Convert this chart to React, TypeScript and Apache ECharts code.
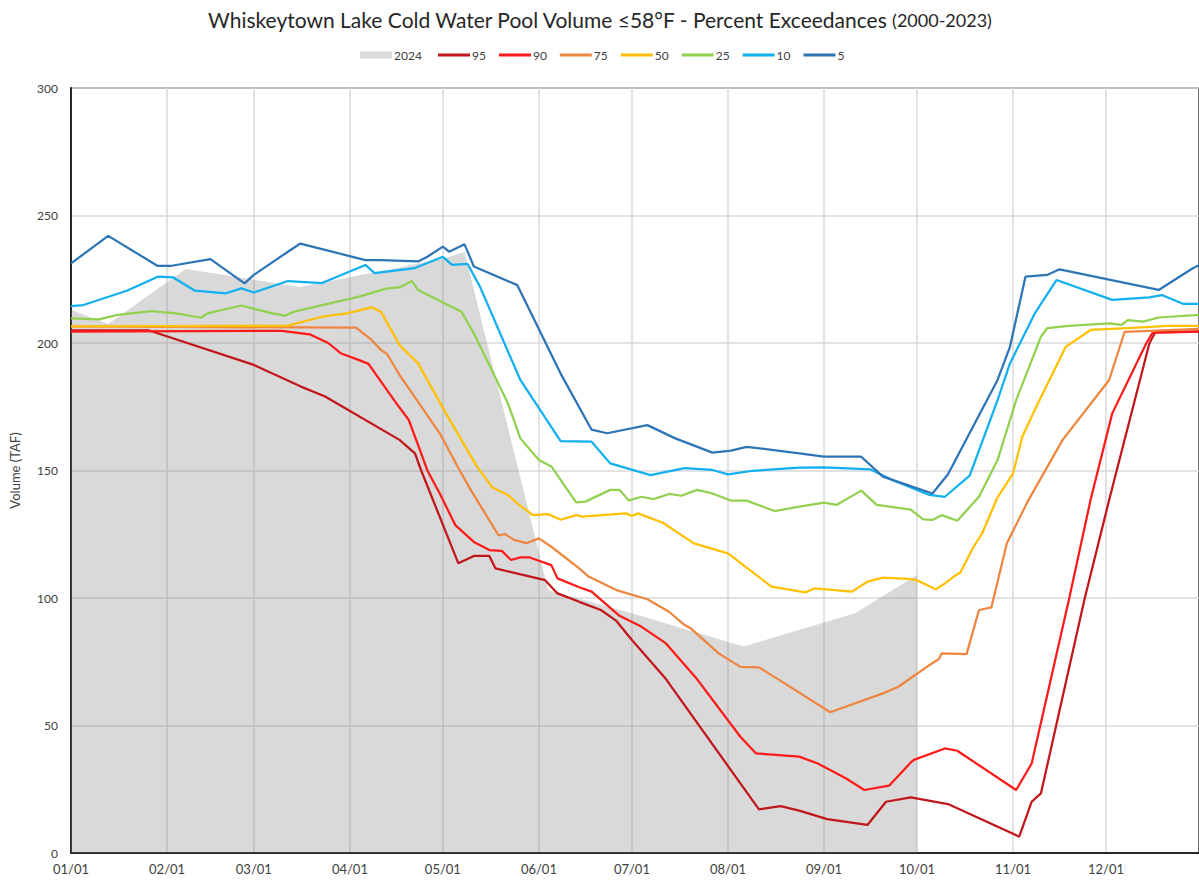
import React, { useEffect, useRef } from "react";
import * as echarts from "echarts";

// ---------- categories (day of year, non-leap) ----------
const monthLengths = [31, 28, 31, 30, 31, 30, 31, 31, 30, 31, 30, 31];
const dayLabels: string[] = [];
monthLengths.forEach((len, m) => {
  for (let d = 1; d <= len; d++) {
    dayLabels.push(`${String(m + 1).padStart(2, "0")}/${String(d).padStart(2, "0")}`);
  }
});

const yTicks = [0, 50, 100, 150, 200, 250, 300];

// ---------- series values (day index, TAF) ----------
const y2024Days = [0, 12, 37, 74, 120, 127, 154, 181, 217, 253, 273];
const y2024Vals = [213, 207.5, 229, 222, 233, 235.7, 103, 94, 81, 94, 109];

const p95Days = [0, 25, 59, 74, 82, 106, 111, 113, 125, 130, 135, 137, 153, 157, 164, 171, 176, 181, 192, 216, 222, 229, 235, 244, 257, 263, 271, 283, 306, 310, 313, 327, 335, 348, 350, 364];
const p95Vals = [205, 205, 191.4, 183, 179, 162, 156.7, 150, 113.6, 116.5, 116.5, 111.6, 107, 101.8, 98.5, 95.3, 91, 83.5, 68.2, 27.3, 17.1, 18.4, 16.6, 13.3, 11, 20.1, 21.8, 19.2, 6.4, 20.1, 23.4, 99.2, 138.4, 199.9, 204.5, 204.5];

const p90Days = [0, 68, 77, 83, 87, 93, 96, 105, 109, 113, 115, 119, 124, 130, 135, 139, 142, 145, 148, 151, 155, 157, 164, 168, 177, 184, 192, 202, 216, 221, 235, 241, 250, 256, 264, 271, 272, 282, 286, 305, 310, 322, 329, 336, 347, 349, 364];
const p90Vals = [204.5, 204.8, 203.4, 200, 196, 193.3, 191.8, 176.3, 169.8, 156.7, 150, 141, 128.6, 122, 118.8, 118.5, 114.9, 115.9, 115.9, 114.6, 112.9, 107.7, 104.2, 102.5, 93, 88.8, 82.2, 68.2, 45.6, 39.1, 37.8, 35.1, 29.3, 24.7, 26.4, 35.5, 36.5, 41, 40.1, 24.7, 35.1, 99.2, 138.4, 172.4, 199.9, 204, 204.5];

const p75Days = [0, 92, 97, 100, 102, 106, 119, 125, 129, 138, 140, 143, 147, 151, 155, 164, 167, 176, 186, 193, 198, 200, 209, 216, 222, 229, 245, 262, 267, 277, 280, 281, 289, 293, 297, 302, 309, 320, 335, 340, 364];
const p75Vals = [206.5, 206, 201.2, 197.3, 195.7, 187.5, 164.6, 151, 142.4, 124.5, 125.1, 122.8, 121.5, 123.4, 120.1, 111.6, 108.4, 103.1, 99.5, 94.6, 89.4, 88.1, 78.3, 73, 72.8, 67.5, 55.2, 62.6, 65.2, 73.7, 76, 78.3, 78, 95.3, 96.3, 121.5, 138.5, 162, 185.5, 204.4, 205.5];

const p50Days = [0, 70, 81, 89, 97, 100, 106, 112, 121, 131, 136, 141, 144, 149, 154, 158, 163, 165, 179, 181, 183, 191, 201, 212, 226, 237, 240, 252, 257, 262, 270, 273, 279, 282, 285, 287, 291, 294, 299, 304, 307, 312, 321, 329, 341, 354, 364];
const p50Vals = [206.5, 206.8, 210.3, 211.6, 214, 212.3, 199.2, 192, 172.4, 151.5, 143.3, 140.4, 137.1, 132.5, 132.9, 130.7, 132.5, 131.9, 133.2, 132.2, 133.2, 129.5, 121.4, 117.5, 104.5, 102.2, 103.8, 102.5, 106.4, 108, 107.5, 107, 103.4, 105.7, 108.5, 110, 119.5, 125.3, 139.5, 148.9, 163.3, 176.3, 198.5, 205.1, 205.8, 206.7, 206.7];

const p25Days = [0, 9, 15, 26, 34, 42, 44, 55, 65, 69, 72, 93, 102, 106, 110, 112, 126, 130, 141, 145, 151, 155, 163, 166, 174, 177, 180, 184, 188, 193, 197, 202, 207, 213, 218, 227, 235, 243, 247, 255, 260, 271, 275, 278, 281, 286, 293, 299, 305, 313, 315, 322, 335, 339, 341, 346, 351, 364];
const p25Vals = [209.7, 209.3, 211, 212.5, 211.6, 209.9, 211.6, 214.7, 211.6, 210.7, 212.3, 218.2, 221.4, 221.8, 224.3, 220.8, 212.3, 203.8, 176.3, 162.6, 154.1, 151.6, 137.5, 137.8, 142.4, 142.4, 138.2, 139.7, 138.8, 140.8, 140.1, 142.4, 141, 138.2, 138.2, 134.1, 135.8, 137.4, 136.5, 142.1, 136.5, 134.7, 130.8, 130.6, 132.5, 130.3, 139.7, 154.1, 177.6, 202.5, 205.8, 206.7, 207.7, 207.1, 209, 208.4, 210, 211];

const p10Days = [0, 4, 18, 28, 33, 40, 50, 55, 59, 70, 81, 95, 98, 111, 120, 123, 128, 132, 145, 158, 168, 174, 187, 198, 207, 212, 220, 235, 243, 258, 265, 277, 282, 290, 299, 303, 311, 318, 336, 348, 352, 359, 364];
const p10Vals = [214.5, 214.9, 220.5, 226, 225.7, 220.5, 219.5, 221.4, 219.8, 224.3, 223.5, 230.6, 227.4, 229.4, 233.8, 230.6, 231, 222, 185.5, 161.5, 161.3, 152.8, 148.2, 150.9, 150.2, 148.5, 149.9, 151.1, 151.2, 150.4, 146.3, 140.4, 139.7, 148, 177.6, 192, 211.6, 224.7, 216.9, 217.9, 218.8, 215.3, 215.3];

const p5Days = [0, 12, 28, 32, 45, 56, 59, 70, 74, 95, 100, 112, 115, 120, 122, 127, 130, 144, 158, 168, 173, 186, 195, 207, 213, 218, 235, 243, 255, 262, 278, 283, 299, 303, 308, 315, 319, 351, 362, 364];
const p5Vals = [231.2, 242, 230.2, 230.2, 232.9, 223.4, 226.7, 235.8, 239, 232.5, 232.5, 232, 233.8, 237.8, 235.8, 238.7, 230, 222.7, 188, 166, 164.6, 167.8, 162.6, 157, 157.8, 159.3, 156.7, 155.4, 155.4, 147.6, 141, 148.5, 185.5, 198.5, 226, 226.7, 228.9, 220.8, 229.3, 230.5];

const lineSeries = [
  { name: "95", days: p95Days, vals: p95Vals, color: "#c0161c" },
  { name: "90", days: p90Days, vals: p90Vals, color: "#ff1a1a" },
  { name: "75", days: p75Days, vals: p75Vals, color: "#ee8640" },
  { name: "50", days: p50Days, vals: p50Vals, color: "#ffc000" },
  { name: "25", days: p25Days, vals: p25Vals, color: "#92d050" },
  { name: "10", days: p10Days, vals: p10Vals, color: "#12b0f0" },
  { name: "5", days: p5Days, vals: p5Vals, color: "#2e75b6" },
];

const zip = (d: number[], v: number[]) => d.map((x, i) => [x, v[i]]);
const FONT = "Lato";
const isMonthStart = (_i: number, v: string) => v.endsWith("/01");

export default function App() {
  const ref = useRef<HTMLDivElement>(null);
  useEffect(() => {
    if (!ref.current) return;
    const chart = echarts.init(ref.current, null, { renderer: "svg" });
    const legendText = { fontFamily: FONT, fontSize: 12, color: "#404040", padding: [0, 0, 0, -3] };
    chart.setOption({
      animation: false,
      backgroundColor: "#ffffff",
      textStyle: { fontFamily: FONT },
      title: {
        text: "{a|Whiskeytown Lake Cold Water Pool Volume ≤58°F - Percent Exceedances} {b|(2000-2023)}",
        left: "center",
        top: 4,
        textStyle: {
          rich: {
            a: { fontFamily: FONT, fontSize: 21, fontWeight: "normal", color: "#262626" },
            b: { fontFamily: FONT, fontSize: 18, fontWeight: "normal", color: "#262626" },
          },
        },
      },
      legend: [
        {
          top: 44,
          left: 355,
          itemWidth: 32,
          itemHeight: 7,
          textStyle: legendText,
          data: [{ name: "2024", icon: "rect" }],
        },
        {
          top: 44,
          left: 433,
          itemWidth: 32,
          itemHeight: 3,
          itemGap: 13,
          textStyle: legendText,
          data: lineSeries.map((s) => ({ name: s.name, icon: "rect" })),
        },
      ],
      grid: {
        left: 68,
        right: -5,
        top: 88,
        bottom: 31,
        show: true,
        borderColor: "#404040",
        borderWidth: 1.5,
        containLabel: false,
      },
      xAxis: {
        type: "category",
        data: dayLabels,
        boundaryGap: false,
        axisLine: { show: true, lineStyle: { color: "#262626", width: 2 } },
        axisTick: { show: false },
        axisLabel: {
          interval: isMonthStart,
          color: "#404040",
          fontSize: 13,
          fontFamily: FONT,
          margin: 9,
        },
        splitLine: {
          show: true,
          interval: isMonthStart,
          lineStyle: { color: "#d9d9d9", width: 1.5 },
        },
      },
      yAxis: {
        type: "value",
        min: yTicks[0],
        max: yTicks[yTicks.length - 1],
        interval: 50,
        name: "Volume (TAF)",
        nameLocation: "middle",
        nameGap: 50,
        nameTextStyle: { fontFamily: FONT, fontSize: 13, color: "#404040" },
        axisLine: { show: true, lineStyle: { color: "#262626", width: 2 } },
        axisTick: { show: false },
        axisLabel: { color: "#404040", fontSize: 12, fontFamily: FONT, margin: 13 },
        splitLine: { show: true, lineStyle: { color: "#d9d9d9", width: 1.5 } },
      },
      series: [
        {
          name: "2024",
          type: "line",
          data: zip(y2024Days, y2024Vals),
          symbol: "none",
          lineStyle: { width: 0 },
          itemStyle: { color: "#d9d9d9" },
          areaStyle: { color: "rgba(128,128,128,0.3)", opacity: 1 },
          z: 1,
        },
        ...lineSeries.map((s, i) => ({
          name: s.name,
          type: "line",
          data: zip(s.days, s.vals),
          symbol: "none",
          lineStyle: { width: 2.25, color: s.color },
          itemStyle: { color: s.color },
          z: 2 + i,
        })),
      ],
    });
    return () => chart.dispose();
  }, []);
  return (
    <div
      ref={ref}
      style={{ position: "absolute", left: 0, top: 0, width: 1199, height: 884 }}
    />
  );
}
